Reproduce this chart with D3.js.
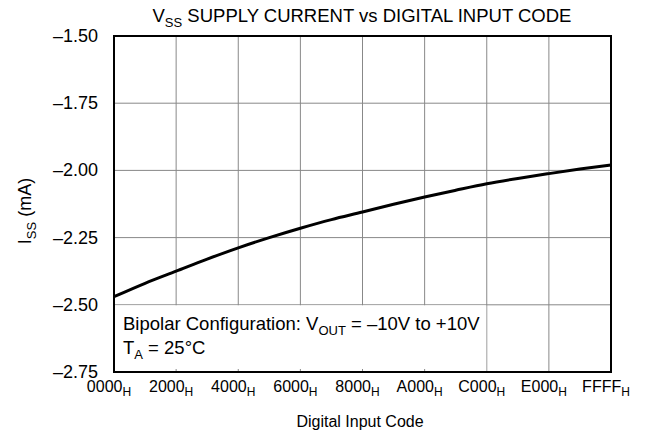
<!DOCTYPE html>
<html>
<head>
<meta charset="utf-8">
<script src="https://cdn.jsdelivr.net/npm/d3@7"></script>
<style>
  body { margin: 0; background: #fff; }
  text { font-family: "Liberation Sans", Arial, sans-serif; fill: #000; }
</style>
</head>
<body>
<script>
// Data
const codes = [0x0000, 0x1000, 0x2000, 0x3000, 0x4000, 0x5000, 0x6000, 0x7000, 0x8000,
               0x9000, 0xA000, 0xB000, 0xC000, 0xD000, 0xE000, 0xF000, 0xFFFF];
const issValues = [-2.470, -2.420, -2.375, -2.330, -2.288, -2.250, -2.215, -2.183, -2.155,
                   -2.126, -2.099, -2.074, -2.050, -2.030, -2.012, -1.995, -1.980];
const xTicks = [0x0000, 0x2000, 0x4000, 0x6000, 0x8000, 0xA000, 0xC000, 0xE000, 0xFFFF];
const xTickLabels = ['0000', '2000', '4000', '6000', '8000', 'A000', 'C000', 'E000', 'FFFF'];
const yTicks = [-1.50, -1.75, -2.00, -2.25, -2.50, -2.75];

const width = 647, height = 446;
const margin = { top: 36, right: 36, bottom: 74, left: 114 };
const big = '18.5px', sub = '13px';

const svg = d3.select('body')
    .append('svg')
    .attr('width', width)
    .attr('height', height);

const x = d3.scaleLinear()
    .domain([0x0000, 0xFFFF])
    .range([margin.left, width - margin.right]);

const y = d3.scaleLinear()
    .domain([-2.75, -1.50])
    .range([height - margin.bottom, margin.top]);

// Grid lines
svg.append('g')
    .selectAll('line')
    .data(xTicks.slice(1, -1))
    .enter()
    .append('line')
    .attr('x1', d => x(d)).attr('x2', d => x(d))
    .attr('y1', y(-1.50)).attr('y2', y(-2.75))
    .attr('stroke', '#888').attr('stroke-width', 1);

svg.append('g')
    .selectAll('line')
    .data(yTicks.slice(1, -1))
    .enter()
    .append('line')
    .attr('x1', x(0)).attr('x2', x(0xFFFF))
    .attr('y1', d => y(d)).attr('y2', d => y(d))
    .attr('stroke', '#888').attr('stroke-width', 1);

// Annotation box covers grid in lower left
svg.append('rect')
    .attr('x', x(0))
    .attr('y', y(-2.50) + 0.5)
    .attr('width', x(0xC000) - x(0) - 0.5)
    .attr('height', y(-2.75) - y(-2.50) - 0.5)
    .attr('fill', '#fff');

// Small ticks along bottom inside box
svg.append('g')
    .selectAll('line')
    .data(xTicks.slice(1, 6))
    .enter()
    .append('line')
    .attr('x1', d => x(d)).attr('x2', d => x(d))
    .attr('y1', y(-2.75) - 3).attr('y2', y(-2.75))
    .attr('stroke', '#888').attr('stroke-width', 1);

// Curve
const line = d3.line()
    .x((d, i) => x(codes[i]))
    .y(d => y(d))
    .curve(d3.curveMonotoneX);

svg.append('path')
    .datum(issValues)
    .attr('d', line)
    .attr('fill', 'none')
    .attr('stroke', '#000')
    .attr('stroke-width', 3);

// Frame
svg.append('rect')
    .attr('x', x(0)).attr('y', y(-1.50))
    .attr('width', x(0xFFFF) - x(0))
    .attr('height', y(-2.75) - y(-1.50))
    .attr('fill', 'none')
    .attr('stroke', '#000')
    .attr('stroke-width', 2);

// Y tick labels
svg.append('g')
    .selectAll('text')
    .data(yTicks)
    .enter()
    .append('text')
    .attr('x', 98)
    .attr('y', d => y(d) + 6)
    .attr('text-anchor', 'end')
    .style('font-size', '18px')
    .text(d => '\u2013' + Math.abs(d).toFixed(2));

// X tick labels with subscript H
const xl = svg.append('g')
    .selectAll('text')
    .data(xTicks)
    .enter()
    .append('text')
    .attr('x', d => x(d) - 5)
    .attr('y', 392)
    .attr('text-anchor', 'middle')
    .style('font-size', '16px');
xl.append('tspan').text((d, i) => xTickLabels[i]);
xl.append('tspan').attr('dy', 4).style('font-size', '12px').text('H');

// Title
const title = svg.append('text')
    .attr('x', 362).attr('y', 22)
    .attr('text-anchor', 'middle')
    .style('font-size', big);
title.append('tspan').text('V');
title.append('tspan').attr('dy', 5).style('font-size', sub).text('SS');
title.append('tspan').attr('dy', -5).text(' SUPPLY CURRENT vs DIGITAL INPUT CODE');

// Axis titles
svg.append('text')
    .attr('x', 360).attr('y', 427)
    .attr('text-anchor', 'middle')
    .style('font-size', '16px')
    .text('Digital Input Code');

const yl = svg.append('text')
    .attr('transform', 'translate(31,211) rotate(-90)')
    .attr('text-anchor', 'middle')
    .style('font-size', '18px');
yl.append('tspan').text('I');
yl.append('tspan').attr('dy', 5).style('font-size', sub).text('SS');
yl.append('tspan').attr('dy', -5).text(' (mA)');

// Annotation
const a1 = svg.append('text')
    .attr('x', 123).attr('y', 330)
    .style('font-size', big);
a1.append('tspan').text('Bipolar Configuration: V');
a1.append('tspan').attr('dy', 5).style('font-size', sub).text('OUT');
a1.append('tspan').attr('dy', -5).text(' = \u201310V to +10V');

const a2 = svg.append('text')
    .attr('x', 123).attr('y', 354)
    .style('font-size', big);
a2.append('tspan').text('T');
a2.append('tspan').attr('dy', 5).style('font-size', sub).text('A');
a2.append('tspan').attr('dy', -5).text(' = 25\u00B0C');
</script>
</body>
</html>
